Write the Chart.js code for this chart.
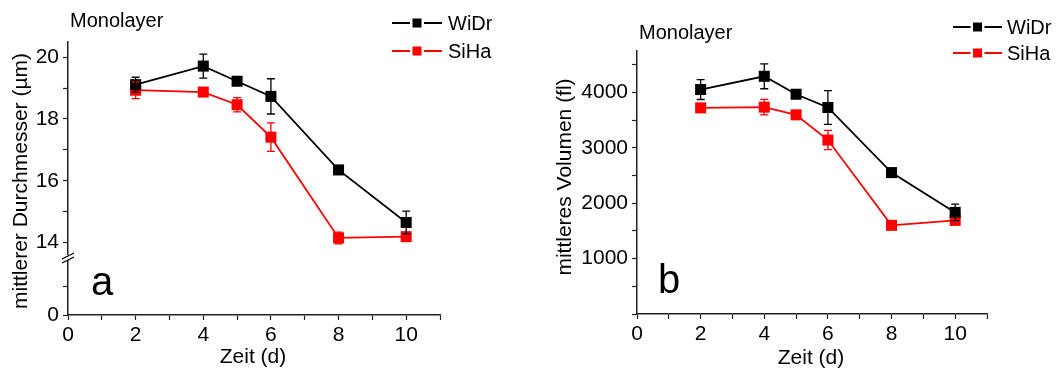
<!DOCTYPE html>
<html><head><meta charset="utf-8">
<script src="https://cdn.jsdelivr.net/npm/chart.js@4.4.0/dist/chart.umd.min.js"></script>
<style>
html,body{margin:0;padding:0;background:#fff;overflow:hidden}
#wrap{position:relative;width:1056px;height:372px}
canvas{position:absolute;top:0}
</style></head><body>
<div id="wrap">
<canvas id="ca" width="528" height="372" style="left:0"></canvas>
<canvas id="cb" width="528" height="372" style="left:528px"></canvas>
</div>
<script>
// ---- data ----
const days = [2, 4, 5, 6, 8, 10];
const seriesNames = ['WiDr', 'SiHa'];
const diamWiDr    = [19.11, 19.71, 19.22, 18.73, 16.35, 14.65];
const diamWiDrErr = [0.24, 0.39, 0.05, 0.57, 0.05, 0.37];
const diamSiHa    = [18.93, 18.87, 18.46, 17.41, 14.15, 14.19];
const diamSiHaErr = [0.27, 0.05, 0.23, 0.46, 0.19, 0.05];
const volWiDr     = [4054, 4293, 3969, 3730, 2554, 1835];
const volWiDrErr  = [180, 225, 40, 305, 30, 150];
const volSiHa     = [3723, 3736, 3597, 3142, 1601, 1691];
const volSiHaErr  = [40, 140, 40, 175, 30, 40];
const xTickLabels = [0, 2, 4, 6, 8, 10];
const diamTickLabels = [14, 16, 18, 20];
const diamLowTickLabels = [0];
const volTickLabels = [1000, 2000, 3000, 4000];
const volTickMarks = [0, 500, 1000, 1500, 2000, 2500, 3000, 3500, 4000, 4500];

const FONT = "'Liberation Sans', Arial, sans-serif";
Chart.defaults.font.family = FONT;
Chart.defaults.color = '#000';

const annotPlugin = {
  id: 'annot',
  afterDatasetsDraw(chart, args, opts) {
    const ctx = chart.ctx;
    const xs = chart.scales.x;
    chart.data.datasets.slice().reverse().forEach(ds => {
      const ys = chart.scales[ds.yAxisID];
      ctx.save();
      ctx.strokeStyle = ds.borderColor;
      ctx.lineWidth = 1.3;
      ds.data.forEach((p, i) => {
        const e = ds.errors[i];
        if (!e) return;
        const px = xs.getPixelForValue(p.x);
        const y1 = ys.getPixelForValue(p.y + e), y2 = ys.getPixelForValue(p.y - e);
        ctx.beginPath();
        ctx.moveTo(px, y1); ctx.lineTo(px, y2);
        ctx.moveTo(px - 4, y1); ctx.lineTo(px + 4, y1);
        ctx.moveTo(px - 4, y2); ctx.lineTo(px + 4, y2);
        ctx.stroke();
      });
      ctx.restore();
    });
  },
  afterDraw(chart, args, opts) {
    const ctx = chart.ctx;
    ctx.save();
    // break marks
    if (opts.brk) {
      const s = chart.scales[opts.brk];
      const bx = s.right, by = s.bottom;
      ctx.fillStyle = '#fff';
      ctx.fillRect(bx - 3, by - 3, 6, 5);
      ctx.strokeStyle = '#000';
      ctx.lineWidth = 1.2;
      ctx.beginPath();
      ctx.moveTo(bx - 6, by + 1); ctx.lineTo(bx + 6, by - 5);
      ctx.moveTo(bx - 6, by + 5); ctx.lineTo(bx + 6, by - 1);
      ctx.stroke();
    }
    // texts
    (opts.texts || []).forEach(t => {
      ctx.save();
      ctx.font = t.font;
      ctx.fillStyle = '#000';
      ctx.textAlign = t.align || 'left';
      ctx.textBaseline = t.baseline || 'middle';
      ctx.translate(t.x, t.y);
      if (t.rot) ctx.rotate(t.rot);
      ctx.fillText(t.text, 0, 0);
      ctx.restore();
    });
    // legend
    const L = opts.legend;
    if (L) {
      chart.data.datasets.forEach((ds, i) => {
        const y = L.y[i];
        ctx.strokeStyle = ds.borderColor;
        ctx.lineWidth = 1.8;
        ctx.beginPath(); ctx.moveTo(L.x0, y); ctx.lineTo(L.x1, y); ctx.stroke();
        const mx = (L.x0 + L.x1) / 2;
        ctx.fillStyle = '#fff';
        ctx.fillRect(mx - 7, y - 5, 14, 10);
        ctx.fillStyle = ds.backgroundColor;
        ctx.fillRect(mx - 4.5, y - 4.5, 9, 9);
        ctx.font = '20px ' + FONT;
        ctx.fillStyle = '#000';
        ctx.textAlign = 'left';
        ctx.textBaseline = 'middle';
        ctx.fillText(ds.label, L.tx, y + 1);
      });
    }
    ctx.restore();
  }
};

function mkDataset(label, color, vals, errs, axis) {
  return {
    label, yAxisID: axis,
    data: days.map((d, i) => ({x: d, y: vals[i]})),
    errors: errs,
    borderColor: color, backgroundColor: color,
    borderWidth: 1.8,
    pointStyle: 'rect', pointRadius: 7.8, pointHoverRadius: 7.8,
    pointBorderWidth: 0,
    tension: 0
  };
}

const axisCommon = {
  border: {display: true, color: '#222', width: 1.5},
  grid: {display: true, drawOnChartArea: false, drawTicks: true, tickLength: 5, color: '#222', tickWidth: 1.2}
};

function xAxis(h) {
  return Object.assign({}, axisCommon, {
    type: 'linear', min: 0, max: 11,
    ticks: {stepSize: 1, autoSkip: false, maxRotation: 0, includeBounds: false, padding: 3,
      font: {size: 21}, color: '#000',
      callback: v => xTickLabels.includes(v) ? String(v) : ''},
    afterFit: s => { s.height = h; }
  });
}

// ---- Chart a ----
new Chart(document.getElementById('ca'), {
  type: 'line',
  data: {datasets: [
    mkDataset(seriesNames[0], '#000000', diamWiDr, diamWiDrErr, 'yTop'),
    mkDataset(seriesNames[1], '#ff0000', diamSiHa, diamSiHaErr, 'yTop')
  ]},
  options: {
    responsive: false, animation: false, devicePixelRatio: 1,
    layout: {padding: {left: 0, right: 88, top: 42, bottom: 0}},
    plugins: {
      legend: {display: false}, tooltip: {enabled: false},
      annot: {
        brk: 'yTop',
        texts: [
          {text: 'Monolayer', x: 70, y: 21, font: '20px ' + FONT},
          {text: 'a', x: 91, y: 295, font: '40px ' + FONT, baseline: 'alphabetic'},
          {text: 'Zeit (d)', x: 253, y: 357, font: '21px ' + FONT, align: 'center'},
          {text: 'mittlerer Durchmesser (\u00b5m)', x: 21, y: 181, font: '21px ' + FONT, align: 'center', rot: -Math.PI / 2}
        ],
        legend: {x0: 392, x1: 442, tx: 448, y: [23, 51]}
      }
    },
    scales: {
      x: xAxis(57),
      yBot: Object.assign({}, axisCommon, {
        type: 'linear', position: 'left', stack: 'ya', stackWeight: 57,
        min: 0, max: 1.98,
        ticks: {stepSize: 1, autoSkip: false, includeBounds: false, padding: 4, font: {size: 21}, color: '#000',
          callback: v => diamLowTickLabels.includes(v) ? String(v) : ''},
        afterFit: s => { s.width = 68; }
      }),
      yTop: Object.assign({}, axisCommon, {
        type: 'linear', position: 'left', stack: 'ya', stackWeight: 216,
        min: 13.5, max: 20.49,
        ticks: {stepSize: 1, autoSkip: false, includeBounds: false, padding: 4, font: {size: 21}, color: '#000',
          callback: v => diamTickLabels.includes(v) ? String(v) : ''},
        afterFit: s => { s.width = 68; }
      })
    }
  },
  plugins: [annotPlugin]
});

// ---- Chart b ----
new Chart(document.getElementById('cb'), {
  type: 'line',
  data: {datasets: [
    mkDataset(seriesNames[0], '#000000', volWiDr, volWiDrErr, 'y'),
    mkDataset(seriesNames[1], '#ff0000', volSiHa, volSiHaErr, 'y')
  ]},
  options: {
    responsive: false, animation: false, devicePixelRatio: 1,
    layout: {padding: {left: 0, right: 69, top: 51, bottom: 0}},
    plugins: {
      legend: {display: false}, tooltip: {enabled: false},
      annot: {
        texts: [
          {text: 'Monolayer', x: 111, y: 33, font: '20px ' + FONT},
          {text: 'b', x: 130, y: 293, font: '40px ' + FONT, baseline: 'alphabetic'},
          {text: 'Zeit (d)', x: 283, y: 358, font: '21px ' + FONT, align: 'center'},
          {text: 'mittleres Volumen (fl)', x: 37, y: 177, font: '21px ' + FONT, align: 'center', rot: -Math.PI / 2}
        ],
        legend: {x0: 425, x1: 474, tx: 479, y: [27, 53]}
      }
    },
    scales: {
      x: xAxis(58),
      y: Object.assign({}, axisCommon, {
        type: 'linear', position: 'left',
        min: 0, max: 4750,
        afterBuildTicks: s => { s.ticks = volTickMarks.map(v => ({value: v})); },
        ticks: {autoSkip: false, padding: 4, font: {size: 21}, color: '#000',
          callback: v => volTickLabels.includes(v) ? String(v) : ''},
        afterFit: s => { s.width = 109; }
      })
    }
  },
  plugins: [annotPlugin]
});
</script>
</body></html>
